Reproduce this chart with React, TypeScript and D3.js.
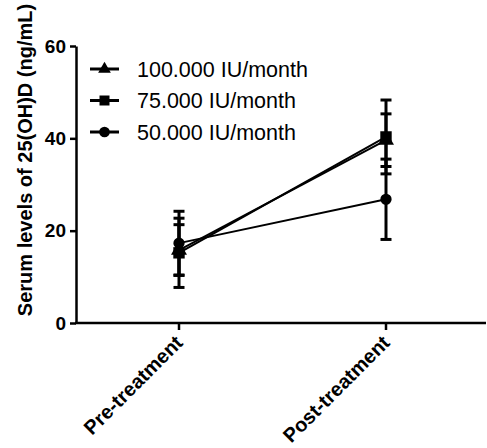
import { useEffect, useRef } from "react";
import * as d3 from "d3";

// chart data
const timepoints = ["Pre-treatment", "Post-treatment"];
const seriesNames = ["100.000 IU/month", "75.000 IU/month", "50.000 IU/month"];
const means100 = [15.8, 39.6];
const sd100 = [5.5, 5.7];
const means75 = [15.2, 40.3];
const sd75 = [7.5, 8.0];
const means50 = [17.3, 26.8];
const sd50 = [6.9, 8.7];
const yTicks = [0, 20, 40, 60];

const W = 487;
const H = 448;
const font = "'Liberation Sans', Arial, sans-serif";

export default function App() {
  const ref = useRef<SVGSVGElement | null>(null);

  useEffect(() => {
    document.body.style.margin = "0";
    const svg = d3.select(ref.current);
    svg.selectAll("*").remove();

    const y = d3.scaleLinear().domain([0, 60]).range([323, 46]);
    const x = d3.scalePoint<string>().domain(timepoints).range([179, 386]);
    const x0 = 76;
    const x1 = 486;

    const series = [
      { name: seriesNames[2], means: means50, sd: sd50, sym: d3.symbolCircle, size: 100 },
      { name: seriesNames[0], means: means100, sd: sd100, sym: d3.symbolTriangle, size: 110 },
      { name: seriesNames[1], means: means75, sd: sd75, sym: d3.symbolSquare, size: 130 },
    ];

    // y axis
    const yAxis = d3.axisLeft(y).tickValues(yTicks).tickSize(6).tickSizeOuter(0).tickPadding(4);
    const gy = svg.append("g").attr("transform", `translate(${x0},0)`).call(yAxis);
    gy.select(".domain").attr("stroke-width", 2.5);
    gy.selectAll(".tick line").attr("stroke-width", 2.5);
    gy.selectAll(".tick text")
      .attr("font-family", font)
      .attr("font-weight", "bold")
      .attr("font-size", 19)
      .attr("fill", "#000");

    // x axis
    svg.append("line")
      .attr("x1", x0 - 1).attr("x2", x1)
      .attr("y1", y(0)).attr("y2", y(0))
      .attr("stroke", "#000").attr("stroke-width", 2.5);
    svg.selectAll(".xtick")
      .data(timepoints)
      .join("line")
      .attr("class", "xtick")
      .attr("x1", d => x(d)!).attr("x2", d => x(d)!)
      .attr("y1", y(0)).attr("y2", y(0) + 7)
      .attr("stroke", "#000").attr("stroke-width", 2.5);
    svg.selectAll(".xlabel")
      .data(timepoints)
      .join("text")
      .attr("class", "xlabel")
      .attr("transform", d => `translate(${x(d)! + 5},${344}) rotate(-45)`)
      .attr("text-anchor", "end")
      .attr("font-family", font)
      .attr("font-weight", "bold")
      .attr("font-size", 20)
      .text(d => d);

    // y label
    svg.append("text")
      .attr("transform", `translate(32,${160}) rotate(-90)`)
      .attr("text-anchor", "middle")
      .attr("font-family", font)
      .attr("font-weight", "bold")
      .attr("font-size", 20)
      .text("Serum levels of 25(OH)D (ng/mL)");

    // lines, error bars, markers
    const line = d3.line<number>().x((_, i) => x(timepoints[i])!).y(d => y(d));
    series.forEach(s => {
      svg.append("path")
        .attr("d", line(s.means))
        .attr("fill", "none")
        .attr("stroke", "#000")
        .attr("stroke-width", 2);
    });
    series.forEach(s => {
      const g = svg.append("g");
      s.means.forEach((m, i) => {
        const cx = x(timepoints[i])!;
        const top = y(m + s.sd[i]);
        const bot = y(m - s.sd[i]);
        g.append("line").attr("x1", cx).attr("x2", cx).attr("y1", top).attr("y2", bot)
          .attr("stroke", "#000").attr("stroke-width", 3);
        [top, bot].forEach(yy => {
          g.append("line").attr("x1", cx - 5.5).attr("x2", cx + 5.5).attr("y1", yy).attr("y2", yy)
            .attr("stroke", "#000").attr("stroke-width", 3);
        });
      });
    });
    series.forEach(s => {
      svg.append("g")
        .selectAll("path")
        .data(s.means)
        .join("path")
        .attr("transform", (d, i) => `translate(${x(timepoints[i])},${y(d)})`)
        .attr("d", d3.symbol().type(s.sym).size(s.size)())
        .attr("fill", "#000");
    });

    // legend
    const legend = [
      { name: seriesNames[0], sym: d3.symbolTriangle, size: 70 },
      { name: seriesNames[1], sym: d3.symbolSquare, size: 100 },
      { name: seriesNames[2], sym: d3.symbolCircle, size: 90 },
    ];
    const ly = d3.scalePoint<string>().domain(legend.map(d => d.name)).range([69, 132]);
    const lg = svg.append("g");
    legend.forEach(l => {
      const yy = ly(l.name)!;
      lg.append("line").attr("x1", 90).attr("x2", 119).attr("y1", yy).attr("y2", yy)
        .attr("stroke", "#000").attr("stroke-width", 3);
      lg.append("path")
        .attr("transform", `translate(104.5,${yy})`)
        .attr("d", d3.symbol().type(l.sym).size(l.size)())
        .attr("fill", "#000");
      lg.append("text")
        .attr("x", 137).attr("y", yy)
        .attr("dy", "0.36em")
        .attr("font-family", font)
        .attr("font-size", 21.5)
        .text(l.name);
    });
  }, []);

  return <svg ref={ref} width={W} height={H} style={{ display: "block", background: "#fff" }} />;
}
